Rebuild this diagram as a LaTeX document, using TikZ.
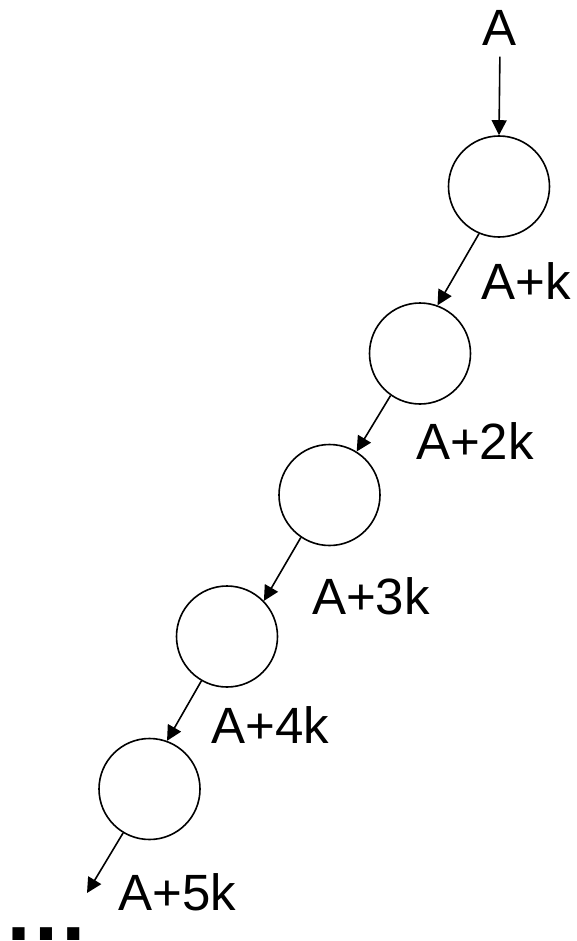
\documentclass[tikz,border=0pt]{standalone}
\usepackage{fontspec}
\setmainfont{Liberation Sans}
\usetikzlibrary{arrows.meta}
\begin{document}
\begin{tikzpicture}[x=1pt,y=-1pt,
    nodo/.style={draw,circle,line width=1.6pt,minimum size=101pt,inner sep=0pt},
    flecha/.style={line width=1.6pt,-{Triangle[length=15pt,width=15pt]}},
    etiqueta/.style={font=\fontsize{51}{60}\selectfont,inner sep=0pt}]
      \useasboundingbox (0,0) rectangle (576,941);

      % Nodos
      \node[etiqueta] (a) at (500,28) {A};
      \node[nodo] (n1) at (499,186.5) {};
      \node[nodo] (n2) at (420,353.5) {};
      \node[nodo] (n3) at (329.5,495) {};
      \node[nodo] (n4) at (227,636.5) {};
      \node[nodo] (n5) at (149.5,789) {};
      \coordinate (fin) at (87,893);

      % Flechas
      \draw[flecha,shorten <=11pt] (a.south) -- (n1.north);
      \draw[flecha] (n1.-113) -- (n2.70);
      \draw[flecha] (n2.-125) -- (n3.58);
      \draw[flecha] (n3.-124) -- (n4.44);
      \draw[flecha] (n4.-120) -- (n5.70);
      \draw[flecha] (n5.-121) -- (fin);

      % Etiquetas
      \node[etiqueta] (k1) at (526,281) {A+k};
      \node[etiqueta] (k2) at (475,441.5) {A+2k};
      \node[etiqueta] (k3) at (371,596.5) {A+3k};
      \node[etiqueta] (k4) at (270.5,725) {A+4k};
      \node[etiqueta] (k5) at (177.5,892.5) {A+5k};
      \node[font=\bfseries\fontsize{86}{90}\selectfont,inner sep=0pt,anchor=base] (puntos) at (46,940.5) {…};
\end{tikzpicture}
\end{document}
